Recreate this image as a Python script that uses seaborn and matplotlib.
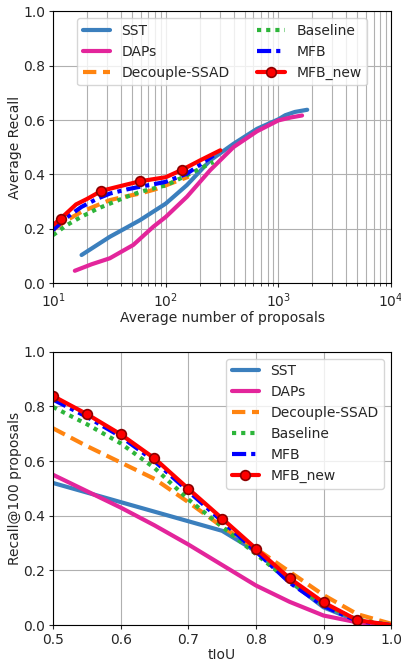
import numpy as np
import pandas as pd
import seaborn as sns
import matplotlib
matplotlib.use("Agg")
import matplotlib.pyplot as plt
from matplotlib.lines import Line2D

sns.set_style("ticks")
plt.rcParams['font.family'] = ['DejaVu Sans']
plt.rcParams['font.size'] = 10

# ---------------- Top panel data: Average Recall vs Average number of proposals
sst_n = [17.9, 24, 31.9, 45, 59, 100, 154, 248, 400, 646, 1000, 1150, 1400, 1800]
sst_ar = [0.104, 0.138, 0.171, 0.205, 0.232, 0.293, 0.361, 0.452, 0.513, 0.568, 0.603, 0.618, 0.630, 0.638]

daps_n = [15.6, 22, 31.9, 51.5, 77.6, 100, 154, 248, 400, 646, 1000, 1300, 1620]
daps_ar = [0.046, 0.070, 0.092, 0.141, 0.208, 0.244, 0.318, 0.416, 0.501, 0.559, 0.599, 0.610, 0.617]

dec_n = [10, 13, 17.9, 25, 32, 45, 59, 80, 100, 130, 160]
dec_ar = [0.196, 0.230, 0.263, 0.288, 0.306, 0.320, 0.330, 0.345, 0.360, 0.378, 0.392]

base_n = [10, 13, 17.9, 25, 32, 45, 59, 80, 100, 154, 202, 265]
base_ar = [0.177, 0.212, 0.245, 0.275, 0.293, 0.318, 0.336, 0.350, 0.360, 0.397, 0.422, 0.446]

mfb_n = [10, 13, 17.9, 25, 32, 45, 59, 80, 100, 154, 200, 265]
mfb_ar = [0.196, 0.240, 0.281, 0.312, 0.330, 0.345, 0.355, 0.365, 0.373, 0.403, 0.435, 0.470]

new_n = [10, 11.7, 16, 20, 26.9, 42, 59, 100, 140.6, 202, 305]
new_ar = [0.214, 0.238, 0.290, 0.310, 0.340, 0.360, 0.375, 0.390, 0.418, 0.452, 0.489]
new_mark_idx = [1, 4, 6, 8]

# ---------------- Bottom panel data: Recall@100 proposals vs tIoU
tiou = [0.5, 0.55, 0.6, 0.65, 0.7, 0.75, 0.8, 0.85, 0.9, 0.95, 1.0]
sst_r = [0.520, 0.485, 0.450, 0.415, 0.380, 0.345, 0.270, 0.160, 0.065, 0.015, 0.0]
daps_r = [0.550, 0.490, 0.430, 0.365, 0.295, 0.220, 0.145, 0.085, 0.035, 0.010, 0.0]
dec_r = [0.720, 0.655, 0.595, 0.535, 0.450, 0.360, 0.280, 0.195, 0.110, 0.040, 0.005]
base_r = [0.798, 0.735, 0.665, 0.575, 0.460, 0.360, 0.260, 0.160, 0.075, 0.020, 0.0]
mfb_r = [0.825, 0.762, 0.690, 0.600, 0.490, 0.380, 0.270, 0.155, 0.070, 0.015, 0.0]
new_r = [0.838, 0.772, 0.698, 0.610, 0.499, 0.390, 0.280, 0.171, 0.083, 0.018, 0.0]
new_r_mark_idx = [0, 1, 2, 3, 4, 5, 6, 7, 8, 9]

labels = ["SST", "DAPs", "Decouple-SSAD", "Baseline", "MFB", "MFB_new"]
colors = ["#3b7fbd", "#e3259b", "#ff8410", "#2db53a", "#0000ff", "#ff0000"]
styles = ["-", "-", (0, (3.2, 1.6)), (0, (1, 1.2)), (0, (3.4, 1.2, 1, 1.2)), "-"]
LW = 3.0

fig = plt.figure(figsize=(4.02, 6.65), dpi=100)
ax1 = fig.add_axes([0.132, 0.574, 0.841, 0.409])
ax2 = fig.add_axes([0.132, 0.060, 0.841, 0.411])

top_series = [(sst_n, sst_ar), (daps_n, daps_ar), (dec_n, dec_ar),
              (base_n, base_ar), (mfb_n, mfb_ar), (new_n, new_ar)]
bot_series = [sst_r, daps_r, dec_r, base_r, mfb_r, new_r]

for (xs, ys), lab, c, ls in zip(top_series, labels, colors, styles):
    df = pd.DataFrame({"x": xs, "y": ys})
    sns.lineplot(data=df, x="x", y="y", ax=ax1, color=c, lw=LW, linestyle=ls,
                 sort=False, estimator=None, legend=False)
dfm = pd.DataFrame({"x": [new_n[i] for i in new_mark_idx], "y": [new_ar[i] for i in new_mark_idx]})
sns.lineplot(data=dfm, x="x", y="y", ax=ax1, lw=0, marker="o", markersize=7,
             markerfacecolor="red", markeredgecolor="#8b0000", markeredgewidth=1.2,
             estimator=None, legend=False)

for ys, lab, c, ls in zip(bot_series, labels, colors, styles):
    df = pd.DataFrame({"x": tiou, "y": ys})
    sns.lineplot(data=df, x="x", y="y", ax=ax2, color=c, lw=LW, linestyle=ls,
                 sort=False, estimator=None, legend=False)
dfm2 = pd.DataFrame({"x": [tiou[i] for i in new_r_mark_idx], "y": [new_r[i] for i in new_r_mark_idx]})
sns.lineplot(data=dfm2, x="x", y="y", ax=ax2, lw=0, marker="o", markersize=7,
             markerfacecolor="red", markeredgecolor="#8b0000", markeredgewidth=1.2,
             estimator=None, legend=False)

handles = []
for lab, c, ls in zip(labels, colors, styles):
    if lab == "MFB_new":
        handles.append(Line2D([], [], color=c, lw=LW, linestyle=ls, marker="o", markersize=7,
                              markerfacecolor="red", markeredgecolor="#8b0000",
                              markeredgewidth=1.2, label=lab))
    else:
        handles.append(Line2D([], [], color=c, lw=LW, linestyle=ls, label=lab))

ax1.set_xscale("log")
ax1.set_xlim(10, 1e4)
ax1.set_ylim(0, 1.0)
ax1.set_yticks([0, 0.2, 0.4, 0.6, 0.8, 1.0])
ax1.grid(True, which="both", axis="x", color="#b0b0b0", lw=0.8)
ax1.grid(True, which="major", axis="y", color="#b0b0b0", lw=0.8)
ax1.set_xlabel("Average number of proposals", labelpad=1)
ax1.set_ylabel("Average Recall", labelpad=1)
ax1.legend(handles=handles, loc="upper center", ncol=2, fontsize=10, framealpha=0.8)

ax2.set_xlim(0.5, 1.0)
ax2.set_ylim(0, 1.0)
ax2.set_yticks([0, 0.2, 0.4, 0.6, 0.8, 1.0])
ax2.grid(True, color="#b0b0b0", lw=0.8)
ax2.set_xlabel("tIoU", labelpad=1)
ax2.set_ylabel("Recall@100 proposals", labelpad=1)
ax2.legend(handles=handles, loc="upper right", fontsize=10, framealpha=0.8)

for ax in (ax1, ax2):
    for sp in ax.spines.values():
        sp.set_color("black")
        sp.set_linewidth(0.8)
    ax.tick_params(labelsize=10, length=3, pad=2.5)

fig.savefig("out.png", dpi=100)
